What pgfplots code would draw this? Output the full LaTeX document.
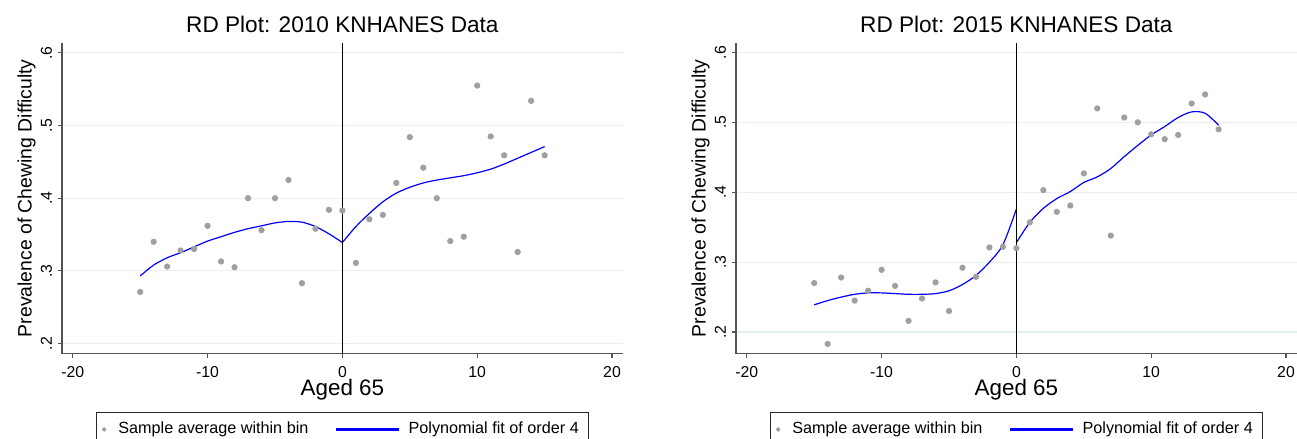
\documentclass[border=0pt]{standalone}
\usepackage{fontspec}
\setmainfont{Liberation Sans}
\usepackage{pgfplots}
\pgfplotsset{compat=1.18}

\definecolor{gridc}{RGB}{230,240,242}
\definecolor{axc}{RGB}{85,85,85}
\definecolor{dotc}{RGB}{160,160,160}
\definecolor{fitc}{RGB}{0,0,255}

% shared look of both RD panels
\pgfplotsset{
  rdplot/.style={
    scale only axis, width=280.4pt, height=155.5pt,
    xmin=-20.8, xmax=20.8, ymax=0.614,
    axis x line*=bottom, axis y line*=left,
    axis line style={axc, line width=0.6pt},
    tick style={axc, line width=0.6pt},
    tick align=outside, major tick length=2pt,
    xtick={-20,-10,0,10,20}, xticklabels={-20,-10,0,10,20},
    ytick={0.2,0.3,0.4,0.5,0.6}, yticklabels={.2,.3,.4,.5,.6},
    ymajorgrids, major grid style={gridc, line width=0.6pt},
    ticklabel style={font=\fontsize{7.9}{9}\selectfont},
    yticklabel style={rotate=90, anchor=south},
    xticklabel shift=1pt, yticklabel shift=-0.5pt,
    every axis title shift=0pt,
    title style={at={(0.5,1.0334)}, anchor=base, font=\fontsize{11.3}{13}\selectfont},
    xlabel={Aged 65},
    xlabel style={at={(axis description cs:0.5,-0.136)}, anchor=base, font=\fontsize{11.2}{13}\selectfont},
    ylabel={Prevalence of Chewing Difficulty},
    ylabel style={at={(axis description cs:-0.063,0.5)}, anchor=center, font=\fontsize{9.7}{11}\selectfont},
    legend columns=2, legend cell align=left,
    legend style={at={(0.5,-0.186)}, anchor=north, draw=black!85, line width=0.5pt,
      font=\fontsize{8.1}{9.7}\selectfont, inner xsep=3pt, inner ysep=3pt,
      /tikz/every even column/.append style={column sep=12pt}},
  },
  dots/.style={dotc, only marks, mark=*, mark size=1.35pt,
    legend image code/.code={\fill[dotc] (0pt,0pt) circle (0.85pt);}},
  fit/.style={color=fitc, line width=0.6pt, smooth, no marks,
    legend image code/.code={\fill[fitc] (0pt,-0.45pt) rectangle (30.5pt,0.45pt);}},
}

\begin{document}
\begin{tikzpicture}

% ---------------- 2010 ----------------
\begin{axis}[rdplot, at={(31pt,42.65pt)}, anchor=south west, ymin=0.186,
  title={RD Plot: 2010 KNHANES Data}]
\addplot[dots] coordinates {
  (-15,0.271) (-14,0.340) (-13,0.306) (-12,0.328) (-11,0.330) (-10,0.362)
  (-9,0.313) (-8,0.305) (-7,0.400) (-6,0.356) (-5,0.400) (-4,0.425)
  (-3,0.283) (-2,0.358) (-1,0.384) (0,0.383) (1,0.311) (2,0.371)
  (3,0.377) (4,0.421) (5,0.484) (6,0.442) (7,0.400) (8,0.341)
  (9,0.347) (10,0.555) (11,0.485) (12,0.459) (13,0.326) (14,0.534) (15,0.459)
};
\addplot[fit] coordinates {
  (-15,0.293) (-14,0.308) (-13,0.318) (-12,0.325) (-11,0.333) (-10,0.341)
  (-9,0.347) (-8,0.353) (-7,0.358) (-6,0.362) (-5,0.366) (-4,0.368)
  (-3,0.367) (-2,0.361) (-1,0.351) (0,0.339)
};
\addplot[fit, forget plot] coordinates {
  (0,0.339) (1,0.361) (2,0.379) (3,0.395) (4,0.407) (5,0.415) (6,0.421)
  (7,0.425) (8,0.428) (9,0.431) (10,0.435) (11,0.440) (12,0.447)
  (13,0.455) (14,0.463) (15,0.471)
};
\addplot[black, line width=0.9pt, forget plot] coordinates {(0,0.186) (0,0.614)};
\legend{\hspace*{4pt}Sample average within bin, \hspace*{3pt}Polynomial fit of order 4}
\end{axis}

% ---------------- 2015 ----------------
\begin{axis}[rdplot, at={(368pt,42.65pt)}, anchor=south west, ymin=0.169,
  title={RD Plot: 2015 KNHANES Data}]
\addplot[dots] coordinates {
  (-15,0.270) (-14,0.183) (-13,0.278) (-12,0.245) (-11,0.259) (-10,0.289)
  (-9,0.266) (-8,0.216) (-7,0.248) (-6,0.271) (-5,0.230) (-4,0.292)
  (-3,0.279) (-2,0.321) (-1,0.322) (0,0.320) (1,0.357) (2,0.403)
  (3,0.372) (4,0.381) (5,0.427) (6,0.520) (7,0.338) (8,0.507)
  (9,0.500) (10,0.483) (11,0.476) (12,0.482) (13,0.527) (14,0.540) (15,0.490)
};
\addplot[fit] coordinates {
  (-15,0.239) (-14,0.245) (-13,0.250) (-12,0.254) (-11,0.256) (-10,0.256)
  (-9,0.255) (-8,0.254) (-7,0.254) (-6,0.255) (-5,0.259) (-4,0.268)
  (-3,0.281) (-2,0.300) (-1,0.325) (0,0.376)
};
\addplot[fit, forget plot] coordinates {
  (0,0.328) (1,0.357) (2,0.377) (3,0.391) (4,0.401) (5,0.414) (6,0.422)
  (7,0.434) (8,0.451) (9,0.467) (10,0.482) (11,0.494) (12,0.507)
  (13,0.515) (14,0.513) (15,0.496)
};
\addplot[black, line width=0.9pt, forget plot] coordinates {(0,0.169) (0,0.614)};
\legend{\hspace*{4pt}Sample average within bin, \hspace*{3pt}Polynomial fit of order 4}
\end{axis}

\pgfresetboundingbox
\path (0,0) rectangle (648.5pt,219.5pt);
\end{tikzpicture}
\end{document}
